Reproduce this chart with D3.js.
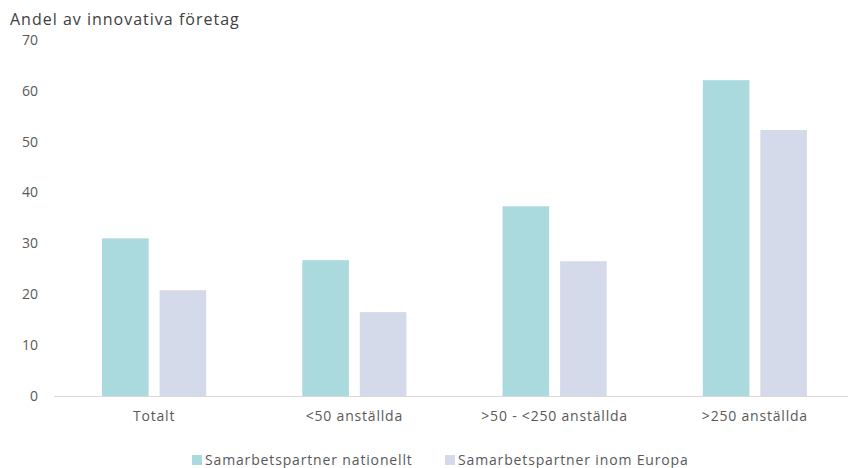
<!DOCTYPE html>
<html>
<head>
<meta charset="utf-8">
<script src="https://cdn.jsdelivr.net/npm/d3@7.9.0/dist/d3.min.js"></script>
<style>
  body { margin: 0; background: white; }
  svg { display: block; font-family: "Open Sans", sans-serif; }
</style>
</head>
<body>
<div id="chart"></div>
<script>
const categories = ["Totalt", "<50 anställda", ">50 - <250 anställda", ">250 anställda"];
const seriesNames = ["Samarbetspartner nationellt", "Samarbetspartner inom Europa"];
const nationellt = [31.0, 26.7, 37.3, 62.1];
const europa = [20.8, 16.5, 26.5, 52.3];
const yTicks = [0, 10, 20, 30, 40, 50, 60, 70];
const colors = ["#aad9de", "#d5daea"];

const width = 850;
const height = 468;
const plot = { left: 54, right: 855, top: 40, bottom: 396 };

const svg = d3.select("#chart")
  .append("svg")
  .attr("width", width)
  .attr("height", height);

const x0 = d3.scaleBand()
  .domain(categories)
  .range([plot.left, plot.right])
  .paddingInner(0.48)
  .paddingOuter(0.24);

const x1 = d3.scaleBand()
  .domain(seriesNames)
  .range([0, x0.bandwidth()])
  .paddingInner(0.19);

const y = d3.scaleLinear()
  .domain([0, 70])
  .range([plot.bottom, plot.top]);

const rows = categories.map((c, i) => ({ cat: c, values: [nationellt[i], europa[i]] }));

// bars
const groups = svg.append("g")
  .selectAll("g")
  .data(rows)
  .join("g")
  .attr("transform", d => `translate(${x0(d.cat)},0)`);

groups.selectAll("rect")
  .data(d => d.values.map((v, i) => ({ name: seriesNames[i], value: v, i })))
  .join("rect")
  .attr("x", d => x1(d.name))
  .attr("y", d => y(d.value))
  .attr("width", x1.bandwidth())
  .attr("height", d => y(0) - y(d.value))
  .attr("fill", d => colors[d.i]);

// baseline
svg.append("line")
  .attr("x1", plot.left)
  .attr("x2", 848)
  .attr("y1", y(0) + 0.5)
  .attr("y2", y(0) + 0.5)
  .attr("stroke", "#d9d9d9")
  .attr("stroke-width", 1);

// y tick labels
svg.append("g")
  .selectAll("text")
  .data(yTicks)
  .join("text")
  .attr("x", 38)
  .attr("y", d => y(d))
  .attr("dy", "0.35em")
  .attr("text-anchor", "end")
  .attr("font-size", 14)
  .attr("fill", "#595959")
  .text(d => d);

// x labels
svg.append("g")
  .selectAll("text")
  .data(categories)
  .join("text")
  .attr("x", d => x0(d) + x0.bandwidth() / 2)
  .attr("y", 421)
  .attr("text-anchor", "middle")
  .attr("font-size", 14)
  .attr("letter-spacing", 0.8)
  .attr("fill", "#595959")
  .text(d => d);

// axis title
svg.append("text")
  .attr("x", 10)
  .attr("y", 25)
  .attr("font-size", 16)
  .attr("letter-spacing", 1)
  .attr("fill", "#404040")
  .text("Andel av innovativa företag");

// legend
const legendX = [192, 445];
const legend = svg.append("g")
  .selectAll("g")
  .data(seriesNames)
  .join("g")
  .attr("transform", (d, i) => `translate(${legendX[i]},455)`);

legend.append("rect")
  .attr("width", 10)
  .attr("height", 10)
  .attr("fill", (d, i) => colors[i]);

legend.append("text")
  .attr("x", 13)
  .attr("y", 10)
  .attr("font-size", 14)
  .attr("letter-spacing", 0.85)
  .attr("fill", "#595959")
  .text(d => d);
</script>
</body>
</html>
